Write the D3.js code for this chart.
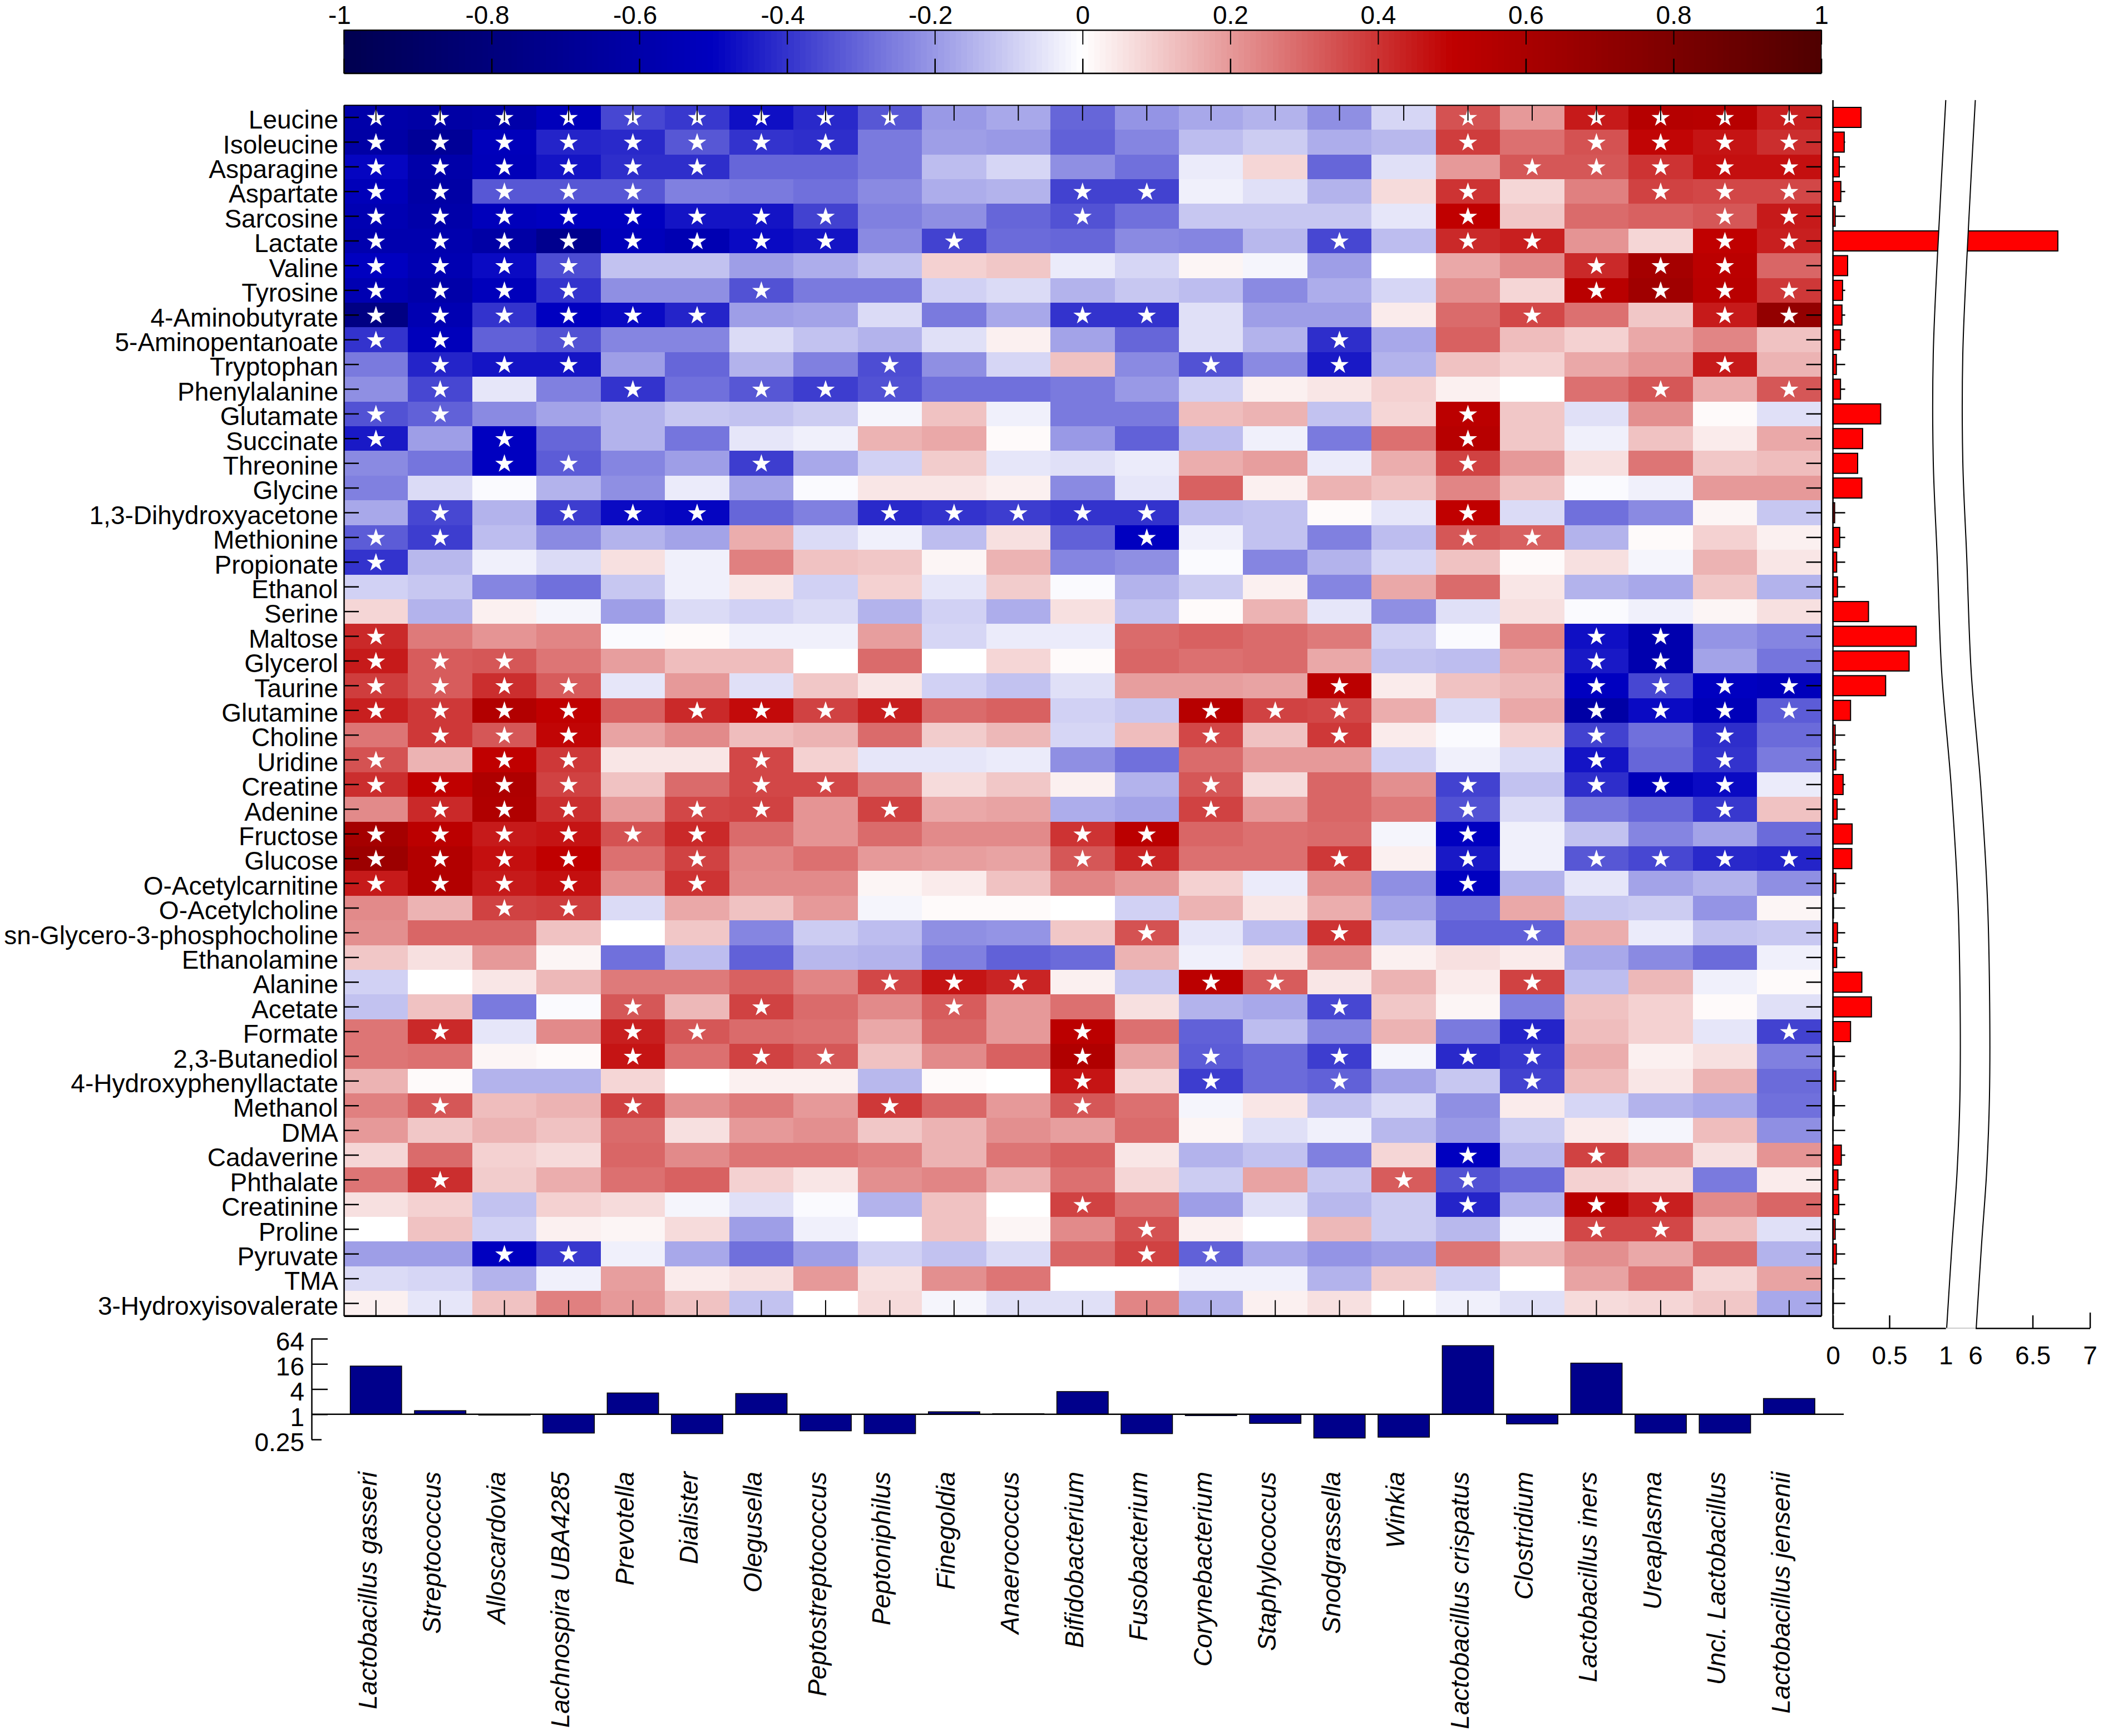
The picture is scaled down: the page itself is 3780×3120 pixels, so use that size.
<!DOCTYPE html>
<html>
<head>
<meta charset="utf-8">
<title>Metabolite genus correlation</title>
<script src="https://cdnjs.cloudflare.com/ajax/libs/d3/7.8.5/d3.min.js"></script>
<style>
html, body { margin: 0; padding: 0; background: #fff; }
svg text { font-family: "Liberation Sans", Arial, sans-serif; fill: #000; }
</style>
</head>
<body>
<script>
const metabolites = ["Leucine","Isoleucine","Asparagine","Aspartate","Sarcosine","Lactate","Valine","Tyrosine","4-Aminobutyrate","5-Aminopentanoate","Tryptophan","Phenylalanine","Glutamate","Succinate","Threonine","Glycine","1,3-Dihydroxyacetone","Methionine","Propionate","Ethanol","Serine","Maltose","Glycerol","Taurine","Glutamine","Choline","Uridine","Creatine","Adenine","Fructose","Glucose","O-Acetylcarnitine","O-Acetylcholine","sn-Glycero-3-phosphocholine","Ethanolamine","Alanine","Acetate","Formate","2,3-Butanediol","4-Hydroxyphenyllactate","Methanol","DMA","Cadaverine","Phthalate","Creatinine","Proline","Pyruvate","TMA","3-Hydroxyisovalerate"];

const genera = ["Lactobacillus gasseri","Streptococcus","Alloscardovia","Lachnospira UBA4285","Prevotella","Dialister","Olegusella","Peptostreptococcus","Peptoniphilus","Finegoldia","Anaerococcus","Bifidobacterium","Fusobacterium","Corynebacterium","Staphylococcus","Snodgrassella","Winkia","Lactobacillus crispatus","Clostridium","Lactobacillus iners","Ureaplasma","Uncl. Lactobacillus","Lactobacillus jensenii"];

// one row per metabolite, one value per genus
const correlations = [
[-.6,-.62,-.6,-.52,-.36,-.39,-.47,-.42,-.33,-.2,-.17,-.3,-.21,-.17,-.15,-.22,-.08,.34,.2,.45,.55,.54,.44],
[-.62,-.68,-.52,-.43,-.42,-.33,-.4,-.41,-.26,-.19,-.2,-.31,-.24,-.13,-.1,-.16,-.14,.38,.28,.34,.49,.46,.41],
[-.49,-.6,-.53,-.46,-.41,-.41,-.3,-.3,-.26,-.13,-.08,-.22,-.28,-.04,.08,-.3,-.06,.2,.33,.33,.4,.47,.47],
[-.53,-.62,-.33,-.33,-.33,-.25,-.26,-.28,-.23,-.16,-.15,-.37,-.37,-.03,-.06,-.15,.07,.4,.08,.25,.37,.36,.36],
[-.56,-.6,-.52,-.5,-.5,-.46,-.46,-.37,-.25,-.22,-.3,-.34,-.28,-.11,-.11,-.11,-.05,.5,.11,.29,.31,.33,.45],
[-.58,-.58,-.62,-.72,-.52,-.56,-.48,-.46,-.23,-.37,-.29,-.3,-.23,-.24,-.14,-.36,-.13,.42,.44,.21,.08,.5,.44],
[-.5,-.56,-.48,-.35,-.12,-.12,-.19,-.16,-.12,.09,.11,-.04,-.08,.02,-.02,-.19,0,.17,.23,.42,.62,.52,.3],
[-.56,-.6,-.52,-.4,-.22,-.22,-.34,-.26,-.26,-.09,-.07,-.15,-.11,-.13,-.23,-.16,-.08,.22,.08,.53,.64,.53,.39],
[-.77,-.56,-.4,-.5,-.48,-.43,-.19,-.18,-.07,-.26,-.17,-.4,-.4,-.06,-.19,-.19,.04,.29,.36,.28,.11,.45,.7],
[-.4,-.52,-.31,-.34,-.24,-.24,-.07,-.12,-.15,-.06,.03,-.18,-.3,-.06,-.15,-.41,-.17,.31,.13,.09,.17,.24,.12],
[-.26,-.43,-.46,-.46,-.19,-.3,-.15,-.25,-.35,-.22,-.08,.12,-.23,-.34,-.23,-.45,-.15,.12,.09,.17,.21,.45,.15],
[-.22,-.36,-.05,-.25,-.4,-.28,-.33,-.38,-.34,-.28,-.28,-.26,-.2,-.09,.03,.05,.09,.03,0,.28,.33,.16,.33],
[-.34,-.31,-.23,-.18,-.15,-.11,-.12,-.1,-.02,.12,-.03,-.26,-.26,.13,.15,-.12,.08,.52,.11,-.06,.22,.01,-.06],
[-.45,-.19,-.5,-.3,-.15,-.27,-.05,-.03,.15,.17,.01,-.2,-.31,-.13,-.03,-.26,.28,.54,.11,-.03,.12,.04,.17],
[-.23,-.27,-.5,-.32,-.24,-.19,-.38,-.17,-.09,.1,-.05,-.06,-.04,.16,.19,-.04,.16,.37,.2,.06,.27,.11,.13],
[-.25,-.07,-.01,-.15,-.22,-.04,-.18,-.01,.05,.05,.03,-.23,-.05,.31,.03,.15,.12,.24,.12,-.01,-.03,.2,.2],
[-.17,-.36,-.15,-.38,-.48,-.49,-.3,-.25,-.42,-.4,-.38,-.4,-.4,-.13,-.12,.01,-.05,.5,-.07,-.28,-.23,.02,-.11],
[-.32,-.38,-.13,-.23,-.15,-.18,.16,-.07,-.03,-.13,.06,-.31,-.5,-.03,-.12,-.25,-.13,.33,.31,-.15,.01,.09,.03],
[-.4,-.14,-.03,-.07,.06,-.03,.25,.12,.11,.02,.15,-.24,-.22,-.01,-.24,-.15,-.08,.12,.01,.06,-.02,.15,.05],
[-.09,-.11,-.24,-.28,-.11,-.03,.05,-.09,.09,-.05,.1,-.01,-.15,-.1,.03,-.24,.17,.29,.05,-.15,-.17,.11,-.15],
[.08,-.15,.03,-.02,-.19,-.07,-.09,-.07,-.15,-.09,-.16,.06,-.12,.01,.15,-.05,-.22,-.06,.06,-.01,-.03,.02,.06],
[.42,.26,.21,.24,-.01,.01,-.03,-.03,.19,-.08,-.04,-.04,.29,.31,.29,.26,-.09,-.01,.24,-.47,-.58,-.21,-.24],
[.45,.32,.33,.27,.19,.13,.13,0,.29,0,.08,.01,.3,.28,.29,.17,-.12,-.13,.17,-.45,-.58,-.18,-.27],
[.38,.32,.41,.32,-.05,.2,-.06,.11,.05,-.09,-.12,-.06,.19,.19,.18,.52,.04,.12,.14,-.5,-.36,-.5,-.52],
[.44,.39,.56,.5,.31,.42,.48,.37,.44,.29,.31,-.09,-.11,.54,.37,.36,.16,-.07,.17,-.62,-.48,-.53,-.32],
[.27,.39,.33,.49,.18,.23,.13,.15,.29,.1,.14,-.08,.13,.36,.12,.39,.04,-.01,.09,-.37,-.28,-.41,-.29],
[.34,.15,.5,.39,.05,.05,.36,.09,-.05,-.05,-.04,-.22,-.28,.29,.2,.2,-.09,-.03,-.07,-.46,-.3,-.4,-.26],
[.41,.5,.58,.37,.12,.29,.36,.36,.26,.07,.11,.03,-.15,.33,.07,.3,.22,-.37,-.12,-.41,-.53,-.48,-.04],
[.23,.42,.57,.41,.2,.36,.37,.21,.37,.17,.18,-.16,-.18,.37,.2,.3,.26,-.34,-.07,-.26,-.3,-.39,.12],
[.62,.52,.45,.46,.34,.42,.29,.21,.29,.23,.23,.4,.52,.3,.28,.29,-.02,-.5,-.03,-.12,-.24,-.18,-.29],
[.66,.56,.47,.5,.28,.37,.24,.28,.2,.19,.18,.33,.43,.28,.28,.39,.03,-.45,-.03,-.33,-.36,-.42,-.43],
[.45,.56,.45,.47,.22,.4,.23,.23,.02,.04,.12,.24,.2,.09,-.04,.22,-.22,-.5,-.15,-.05,-.18,-.15,-.22],
[.23,.15,.37,.38,-.07,.17,.12,.2,-.02,.01,.01,0,-.09,.15,.05,.16,-.18,-.28,.17,-.11,-.1,-.21,.02],
[.22,.3,.3,.12,0,.11,-.24,-.1,-.13,-.22,-.21,.11,.34,-.05,-.13,.4,-.11,-.31,-.31,.16,-.04,-.12,-.11],
[.11,.06,.2,.02,-.28,-.13,-.31,-.14,-.15,-.25,-.31,-.29,.15,-.03,.05,.23,.03,.06,.04,-.17,-.23,-.29,-.03],
[-.09,0,.05,.14,.26,.26,.31,.24,.36,.46,.43,.03,-.11,.52,.32,.05,.15,.04,.37,-.13,.14,-.03,.01],
[-.12,.12,-.26,-.01,.33,.14,.37,.29,.23,.32,.2,.28,.06,-.15,-.17,-.36,.11,.02,-.25,.12,.09,.01,-.06],
[.27,.42,-.05,.23,.44,.33,.29,.28,.17,.3,.2,.52,.28,-.31,-.13,-.24,.15,-.26,-.43,.13,.09,-.05,-.37],
[.27,.28,.02,.01,.46,.28,.37,.33,.12,.23,.31,.57,.18,-.32,-.29,-.38,-.02,-.42,-.39,.16,.03,.06,-.25],
[.15,.01,-.15,-.15,.08,0,.03,.03,-.14,.01,0,.46,.08,-.38,-.29,-.31,-.18,-.11,-.37,.13,.05,.15,-.29],
[.25,.33,.13,.15,.37,.22,.26,.2,.39,.3,.2,.33,.28,-.02,.05,-.12,-.07,-.22,.04,-.08,-.15,-.17,-.28],
[.2,.11,.15,.12,.29,.06,.2,.22,.11,.15,.22,.19,.29,.02,-.06,-.03,-.14,-.2,-.1,.04,-.02,.13,-.22],
[.08,.29,.09,.07,.3,.23,.27,.27,.25,.15,.27,.31,.05,-.15,-.12,-.25,.08,-.5,-.14,.37,.2,.06,.21],
[.27,.41,.1,.16,.28,.31,.09,.05,.22,.24,.15,.28,.08,-.1,.18,-.11,.32,-.34,-.29,.09,.07,-.26,.04],
[.06,.09,-.12,.09,.07,-.02,-.06,-.01,-.15,.12,0,.37,.28,-.19,-.06,-.14,-.1,-.43,-.15,.53,.44,.23,.3],
[0,.12,-.09,.03,.02,.07,-.19,-.03,0,.12,.02,.23,.34,.03,0,.14,-.1,-.14,-.02,.36,.36,.13,-.06],
[-.19,-.19,-.5,-.39,-.03,-.17,-.28,-.19,-.09,-.12,-.07,.3,.37,-.31,-.17,-.21,-.19,.27,.15,.22,.17,.29,-.15],
[-.07,-.08,-.15,-.03,.19,.04,.06,.2,.06,.22,.27,0,0,-.03,-.03,-.15,.1,-.09,0,.18,.27,.08,.18],
[.03,-.05,.12,.25,.2,.12,-.12,0,.07,-.02,-.06,-.06,.24,-.15,.03,.06,0,-.03,-.06,.07,.08,.11,-.17]
];

// genus columns that carry a significance star, per metabolite row
const significant = [
[0,1,2,3,4,5,6,7,8,17,19,20,21,22],
[0,1,2,3,4,5,6,7,17,19,20,21,22],
[0,1,2,3,4,5,18,19,20,21,22],
[0,1,2,3,4,11,12,17,20,21,22],
[0,1,2,3,4,5,6,7,11,17,21,22],
[0,1,2,3,4,5,6,7,9,15,17,18,21,22],
[0,1,2,3,19,20,21],
[0,1,2,3,6,19,20,21,22],
[0,1,2,3,4,5,11,12,18,21,22],
[0,1,3,15],
[1,2,3,8,13,15,21],
[1,4,6,7,8,20,22],
[0,1,17],
[0,2,17],
[2,3,6,17],
[],
[1,3,4,5,8,9,10,11,12,17],
[0,1,12,17,18],
[0],
[],
[],
[0,19,20],
[0,1,2,19,20],
[0,1,2,3,15,19,20,21,22],
[0,1,2,3,5,6,7,8,13,14,15,19,20,21,22],
[1,2,3,13,15,19,21],
[0,2,3,6,19,21],
[0,1,2,3,6,7,13,17,19,20,21],
[1,2,3,5,6,8,13,17,21],
[0,1,2,3,4,5,11,12,17],
[0,1,2,3,5,11,12,15,17,19,20,21,22],
[0,1,2,3,5,17],
[2,3],
[12,15,18],
[],
[8,9,10,13,14,18],
[4,6,9,15],
[1,4,5,11,18,22],
[4,6,7,11,13,15,17,18],
[11,13,15,18],
[1,4,8,11],
[],
[17,19],
[1,16,17],
[11,17,19,20],
[12,19,20],
[2,3,12,13],
[],
[]
];

const metaboliteBars = [.249,.1,.056,.07,.02,6.72,.13,.085,.08,.067,.03,.067,.423,.263,.219,.256,.015,.06,.033,.04,.315,.738,.675,.467,.156,.02,.026,.09,.037,.17,.167,.026,.005,.04,.033,.256,.341,.156,.011,.026,.011,.002,.074,.044,.052,.02,.03,.004,.004];
const genusRatios = [14.2,1.22,.955,.355,3.23,.344,3.13,.401,.344,1.147,1.03,3.49,.344,.927,.605,.27,.283,43.7,.587,16.7,.355,.355,2.38];

const colorTicks = [-1,-.8,-.6,-.4,-.2,0,.2,.4,.6,.8,1];
const colorStops = [-1,-.5,0,.5,1];
const colorRange = ["#00004f","#0000c0","#ffffff","#c00000","#4f0000"];
const ratioTicks = [64,16,4,1,.25];
const barTicksLow = [0,.5,1];
const barTicksHigh = [6,6.5,7];
// where the axis break runs: [value on the low side, row position]
const breakLine = [[1,-.2],[.939,4.97],[.889,10.1],[.889,14.4],[.924,18.3],[.963,22.9],[1.047,27.5],[1.107,32.1],[1.127,36.3],[1.125,40.2],[1.1,43.2],[1.054,46.2],[1.008,49.5]];

const fontSize = 46;
const heat = { left: 618, right: 3273.6, top: 188.8, bottom: 2364.7 };

const svg = d3.select("body").append("svg")
	.attr("width", 3780)
	.attr("height", 3120)
	.attr("viewBox", "0 0 3780 3120");
svg.append("rect").attr("width", 3780).attr("height", 3120).attr("fill", "#fff");

const x = d3.scaleBand().domain(genera).range([heat.left, heat.right]);
const y = d3.scaleBand().domain(metabolites).range([heat.top, heat.bottom]);
const color = d3.scaleLinear().domain(colorStops).range(colorRange);

function styleAxis(g, width) {
	g.selectAll("path, line").attr("stroke", "#000").attr("stroke-width", width);
	g.selectAll("text").attr("font-size", fontSize).attr("fill", "#000");
	return g;
}

// colour bar
const cbar = { top: 54, bottom: 131.5 };
const cbarX = d3.scaleLinear().domain([-1, 1]).range([heat.left, heat.right]);
const cbarStep = 1 / 128;
const cbarSteps = d3.range(-1, 1, cbarStep);
svg.append("g").selectAll("rect").data(cbarSteps).join("rect")
	.attr("x", d => cbarX(d))
	.attr("y", cbar.top)
	.attr("width", cbarX(-1 + cbarStep) - cbarX(-1) + 0.5)
	.attr("height", cbar.bottom - cbar.top)
	.attr("fill", d => color(d + cbarStep / 2))
	.attr("shape-rendering", "crispEdges");

const cbarTop = svg.append("g").attr("transform", `translate(0,${cbar.top})`)
	.call(d3.axisTop(cbarX).tickValues(colorTicks).tickFormat(d => String(d)).tickSize(-26).tickSizeOuter(0).tickPadding(11));
styleAxis(cbarTop, 2);
cbarTop.selectAll("text").attr("dx", d => d < 0 ? -8 : 0).attr("dy", 0);
const cbarBottom = svg.append("g").attr("transform", `translate(0,${cbar.bottom})`)
	.call(d3.axisBottom(cbarX).tickValues(colorTicks).tickFormat("").tickSize(-26).tickSizeOuter(0));
styleAxis(cbarBottom, 2.5);
svg.append("rect")
	.attr("x", heat.left).attr("y", cbar.top)
	.attr("width", heat.right - heat.left).attr("height", cbar.bottom - cbar.top)
	.attr("fill", "none").attr("stroke", "#000").attr("stroke-width", 1.5);

// heat map cells
const rows = svg.append("g").selectAll("g").data(correlations).join("g")
	.attr("transform", (d, i) => `translate(0,${y(metabolites[i])})`);
rows.selectAll("rect").data(d => d).join("rect")
	.attr("x", (d, j) => x(genera[j]))
	.attr("width", x.bandwidth() + 0.3)
	.attr("height", y.bandwidth() + 0.3)
	.attr("fill", d => color(d))
	.attr("shape-rendering", "crispEdges");

// stars
const star = d3.symbol().type(d3.symbolStar).size(225);
const starCells = significant.flatMap((cols, i) => cols.map(j => ({ row: i, col: j })));
svg.append("g").selectAll("path").data(starCells).join("path")
	.attr("d", star)
	.attr("fill", "#fff")
	.attr("stroke", "#fff")
	.attr("stroke-width", 2)
	.attr("stroke-linejoin", "miter")
	.attr("transform", d => `translate(${x(genera[d.col]) + x.bandwidth() / 2},${y(metabolites[d.row]) + y.bandwidth() / 2 + 1})`);

// heat map frame and ticks
const leftAxis = svg.append("g").attr("transform", `translate(${heat.left},0)`)
	.call(d3.axisLeft(y).tickSize(-27).tickSizeOuter(0).tickPadding(10));
styleAxis(leftAxis, 2.5);
leftAxis.selectAll("text").attr("dy", "0.44em");
const rightAxis = svg.append("g").attr("transform", `translate(${heat.right},0)`)
	.call(d3.axisRight(y).tickFormat("").tickSize(-27).tickSizeOuter(0));
styleAxis(rightAxis, 2.5);
const topAxis = svg.append("g").attr("transform", `translate(0,${heat.top})`)
	.call(d3.axisTop(x).tickFormat("").tickSize(-28).tickSizeOuter(0));
styleAxis(topAxis, 2);
const bottomAxis = svg.append("g").attr("transform", `translate(0,${heat.bottom})`)
	.call(d3.axisBottom(x).tickFormat("").tickSize(-28).tickSizeOuter(0));
styleAxis(bottomAxis, 2);
bottomAxis.select(".domain").attr("stroke-width", 3.5);

// red bars on the right, with a broken axis
const barLow = d3.scaleLinear().domain([0, 1]).range([3294.6, 3497.4]);
const barHigh = d3.scaleLinear().domain([6, 7]).range([3550.5, 3756.5]);
const barX = v => v > 1 ? barHigh(v) : barLow(v);
const barAxisY = 2387;
const rowPos = d3.scaleLinear().domain([0, metabolites.length]).range([heat.top, heat.bottom]);

const barTicks = svg.append("g").attr("transform", `translate(${barLow(0)},0)`)
	.call(d3.axisRight(y).tickFormat("").tickSize(22).tickSizeOuter(0));
barTicks.select(".domain").remove();
styleAxis(barTicks, 2.5);

svg.append("g").selectAll("rect").data(metaboliteBars).join("rect")
	.attr("x", barLow(0))
	.attr("y", (d, i) => y(metabolites[i]) + 4.2)
	.attr("width", d => barX(d) - barLow(0))
	.attr("height", 36)
	.attr("fill", "#ff0000")
	.attr("stroke", "#000")
	.attr("stroke-width", 2);

const highValue = v => 6 + (v - 1) * 0.985;
const band = d3.area()
	.x0(d => barLow(d[0]))
	.x1(d => barHigh(highValue(d[0])))
	.y(d => rowPos(d[1]))
	.curve(d3.curveCatmullRom);
svg.append("path").datum(breakLine).attr("d", band).attr("fill", "#fff");
const lowEdge = d3.line().x(d => barLow(d[0])).y(d => rowPos(d[1])).curve(d3.curveCatmullRom);
const highEdge = d3.line().x(d => barHigh(highValue(d[0]))).y(d => rowPos(d[1])).curve(d3.curveCatmullRom);
svg.append("path").datum(breakLine).attr("d", lowEdge).attr("fill", "none").attr("stroke", "#000").attr("stroke-width", 2);
svg.append("path").datum(breakLine).attr("d", highEdge).attr("fill", "none").attr("stroke", "#000").attr("stroke-width", 2);

svg.append("line")
	.attr("x1", barLow(0)).attr("x2", barLow(0))
	.attr("y1", 180).attr("y2", barAxisY)
	.attr("stroke", "#000").attr("stroke-width", 2.5);

[[barLow, barTicksLow], [barHigh, barTicksHigh]].forEach(([scale, ticks]) => {
	const g = svg.append("g").attr("transform", `translate(0,${barAxisY})`)
		.call(d3.axisBottom(scale).tickValues(ticks).tickFormat(d => String(d)).tickSize(-23).tickSizeOuter(0));
	styleAxis(g, 2.5);
	g.selectAll("text").attr("y", 65).attr("dy", 0);
	// the break curves stand in for the ticks at 1 and 6, and the tick at 7 runs longer
	g.selectAll(".tick line").filter(d => d === 1 || d === 6).remove();
	g.selectAll(".tick line").filter(d => d === 7).attr("y2", -28);
});
svg.append("line")
	.attr("x1", barLow(1)).attr("x2", barHigh(6))
	.attr("y1", barAxisY).attr("y2", barAxisY)
	.attr("stroke", "#bbb").attr("stroke-width", 1.5);

// genus ratio bars, log scale
const ratioY = d3.scaleLog().base(2).domain([.25, 64]).range([2587, 2406]);
const ratioBarWidth = x.bandwidth() * 0.8;
svg.append("g").selectAll("rect").data(genusRatios).join("rect")
	.attr("x", (d, i) => x(genera[i]) + x.bandwidth() / 2 - ratioBarWidth / 2)
	.attr("y", d => Math.min(ratioY(d), ratioY(1)))
	.attr("width", ratioBarWidth)
	.attr("height", d => Math.abs(ratioY(d) - ratioY(1)))
	.attr("fill", "#00008b")
	.attr("stroke", "#000")
	.attr("stroke-width", 1.5);

const ratioAxis = svg.append("g").attr("transform", "translate(560,0)")
	.call(d3.axisLeft(ratioY).tickValues(ratioTicks).tickFormat(d => String(d)).tickSize(-29).tickSizeOuter(0).tickPadding(13));
styleAxis(ratioAxis, 2.5);
ratioAxis.selectAll("text").attr("dy", "0.44em");
ratioAxis.selectAll(".tick line").filter(d => d === .25).attr("x2", 18);
svg.append("line")
	.attr("x1", 560).attr("x2", 3314)
	.attr("y1", ratioY(1)).attr("y2", ratioY(1))
	.attr("stroke", "#000").attr("stroke-width", 2.5);

// genus names
svg.append("g").selectAll("text").data(genera).join("text")
	.attr("transform", d => `translate(${x(d) + x.bandwidth() / 2 + 1},2645) rotate(-90)`)
	.attr("text-anchor", "end")
	.attr("font-style", "italic")
	.attr("font-size", fontSize)
	.text(d => d);
</script>
</body>
</html>
